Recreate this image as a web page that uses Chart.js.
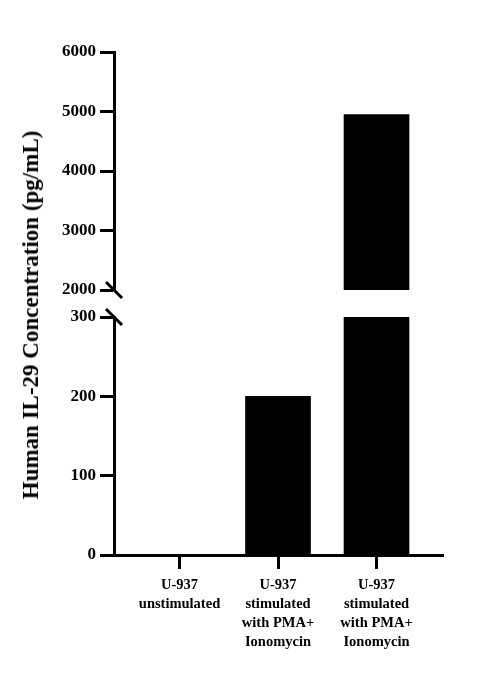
<!DOCTYPE html>
<html>
<head>
<meta charset="utf-8">
<script src="https://cdn.jsdelivr.net/npm/chart.js@4.4.1/dist/chart.umd.min.js"></script>
<style>
  html, body { margin: 0; padding: 0; background: #fff; }
  #wrap { position: relative; width: 490px; height: 688px; background: #fff; overflow: hidden; }
  canvas { position: absolute; left: 0; top: 0; }
  #ytitle {
    position: absolute; left: 31px; top: 315px;
    transform: translate(-50%, -50%) rotate(-90deg);
    white-space: nowrap;
    font-family: 'Liberation Serif', 'Times New Roman', serif;
    font-weight: bold; font-size: 23px; color: #000;
  }
</style>
</head>
<body>
<div id="wrap">
  <canvas id="lower" width="490" height="688"></canvas>
  <canvas id="upper" width="490" height="688"></canvas>
  <div id="ytitle">Human IL-29 Concentration (pg/mL)</div>
</div>
<script>
// ---- data ----
const categories = [
  ['U-937', 'unstimulated'],
  ['U-937', 'stimulated', 'with PMA+', 'Ionomycin'],
  ['U-937', 'stimulated', 'with PMA+', 'Ionomycin']
];
const values = [0, 200, 4950];
const upperTicks = [2000, 3000, 4000, 5000, 6000];
const lowerTicks = [0, 100, 200, 300];
const yTitle = 'Human IL-29 Concentration (pg/mL)';

// ---- shared styling ----
const FONT = "'Liberation Serif', 'Times New Roman', serif";
Chart.defaults.font.family = FONT;
Chart.defaults.color = '#000';

const points = values.map((v, i) => ({ x: i, y: v }));
const X_MIN = -0.665, X_MAX = 2.675;

function dataset() {
  return [{
    data: points,
    backgroundColor: '#000',
    borderWidth: 0,
    barThickness: 65,
    clip: 0
  }];
}

function yAxis(min, max, tickVals) {
  return {
    type: 'linear', min: min, max: max,
    afterBuildTicks: s => { s.ticks = tickVals.map(v => ({ value: v })); },
    afterFit: s => { s.width = 114; },
    grid: { display: true, drawOnChartArea: false, drawTicks: true,
            tickLength: 14, tickWidth: 3, tickColor: '#000' },
    border: { display: true, width: 3, color: '#000' },
    ticks: { font: { size: 17, weight: 'bold' }, color: '#000', padding: 4,
             callback: v => String(v) }
  };
}

function breakMark(where) {
  return {
    id: 'break_' + where,
    afterDraw(chart) {
      const a = chart.chartArea, c = chart.ctx;
      const y = where === 'bottom' ? a.bottom : a.top;
      c.save();
      c.strokeStyle = '#000'; c.lineWidth = 3;
      c.beginPath();
      c.moveTo(a.left - 8, y - 8);
      c.lineTo(a.left + 8, y + 8);
      c.stroke();
      c.restore();
    }
  };
}

// ---- upper segment (2000 - 6000) ----
new Chart(document.getElementById('upper'), {
  type: 'bar',
  data: { datasets: dataset() },
  options: {
    responsive: false, animation: false, devicePixelRatio: 1,
    layout: { padding: { top: 52, bottom: 688 - 290, left: 0, right: 47 } },
    plugins: { legend: { display: false }, tooltip: { enabled: false } },
    scales: {
      x: { type: 'linear', min: X_MIN, max: X_MAX, offset: false, display: false },
      y: yAxis(2000, 6000, upperTicks)
    }
  },
  plugins: [breakMark('bottom')]
});

// ---- lower segment (0 - 300) ----
new Chart(document.getElementById('lower'), {
  type: 'bar',
  data: { datasets: dataset() },
  options: {
    responsive: false, animation: false, devicePixelRatio: 1,
    layout: { padding: { top: 317, bottom: 0, left: 0, right: 47 } },
    plugins: { legend: { display: false }, tooltip: { enabled: false } },
    scales: {
      x: {
        type: 'linear', min: X_MIN, max: X_MAX, offset: false,
        afterBuildTicks: s => { s.ticks = categories.map((c, i) => ({ value: i })); },
        afterFit: s => { s.height = 133; },
        grid: { display: true, offset: false, drawOnChartArea: false, drawTicks: true,
                tickLength: 14, tickWidth: 3, tickColor: '#000' },
        border: { display: true, width: 3, color: '#000' },
        ticks: {
          autoSkip: false, maxRotation: 0, minRotation: 0,
          font: { size: 14.5, weight: 'bold', lineHeight: 1.3 },
          color: '#000', padding: 7,
          callback: v => categories[v]
        }
      },
      y: yAxis(0, 300, lowerTicks)
    }
  },
  plugins: [breakMark('top')]
});
</script>
</body>
</html>
